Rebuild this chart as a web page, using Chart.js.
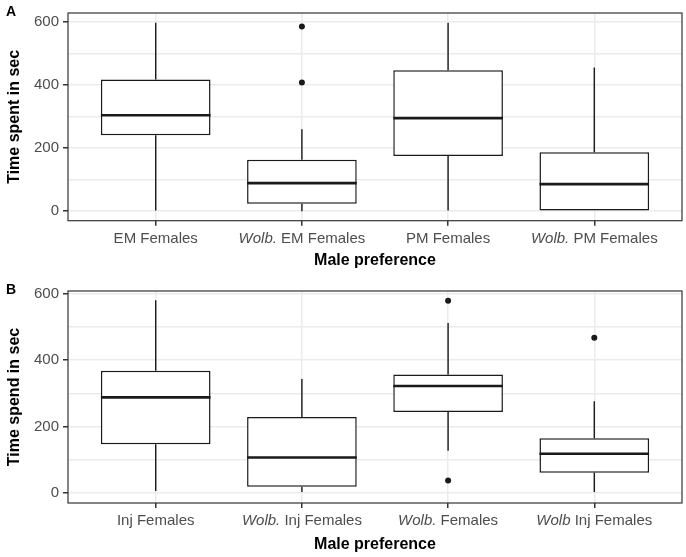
<!DOCTYPE html>
<html>
<head>
<meta charset="utf-8">
<title>Male preference</title>
<script src="https://cdn.jsdelivr.net/npm/chart.js@4.4.1/dist/chart.umd.min.js"></script>
<style>
  body { margin: 0; background: #fff; }
  canvas { position: absolute; left: 0; }
</style>
</head>
<body>
<canvas id="chartA" width="686" height="278" style="top:0"></canvas>
<canvas id="chartB" width="686" height="279" style="top:278px"></canvas>
<script>
// Panel A - time spent with each male type
const catsA = ['EM Females', 'Wolb. EM Females', 'PM Females', 'Wolb. PM Females'];
const lowA = [2, 0, 2, 0];
const q1A = [241, 24, 175, 0];
const medA = [304, 89, 295, 86];
const q3A = [417, 163, 447, 187];
const highA = [597, 260, 597, 455];
const outCatA = [2, 2];
const outValA = [585, 408];

// Panel B
const catsB = ['Inj Females', 'Wolb. Inj Females', 'Wolb. Females', 'Wolb Inj Females'];
const lowB = [6, 3, 127, 3];
const q1B = [147, 19, 244, 61];
const medB = [288, 107, 322, 118];
const q3B = [368, 229, 357, 165];
const highB = [580, 343, 512, 276];
const outCatB = [3, 3, 4];
const outValB = [579, 38, 467];

const yTicks = [0, 100, 200, 300, 400, 500, 600];

const FONT = "'Liberation Sans', Arial, sans-serif";
Chart.defaults.font.family = FONT;

// draws whiskers, medians, panel frame, letter and the mixed italic x labels
function boxExtras(stats, cats, letter, letterY) {
    return {
        id: 'boxExtras' + letter,
        afterDatasetsDraw(chart) {
            const { ctx, scales: { x, y } } = chart;
            const meta = chart.getDatasetMeta(0);
            ctx.save();
            ctx.strokeStyle = '#1a1a1a';
            meta.data.forEach((bar, i) => {
                const cx = x.getPixelForValue(i + 1);
                ctx.lineWidth = 1.4;
                ctx.beginPath();
                ctx.moveTo(cx, y.getPixelForValue(stats.high[i]));
                ctx.lineTo(cx, y.getPixelForValue(stats.q3[i]));
                ctx.moveTo(cx, y.getPixelForValue(stats.q1[i]));
                ctx.lineTo(cx, y.getPixelForValue(stats.low[i]));
                ctx.stroke();
                const my = y.getPixelForValue(stats.med[i]);
                ctx.lineWidth = 2.6;
                ctx.beginPath();
                ctx.moveTo(bar.x - bar.width / 2, my);
                ctx.lineTo(bar.x + bar.width / 2, my);
                ctx.stroke();
            });
            ctx.restore();
        },
        afterDraw(chart) {
            const { ctx, chartArea: ca, scales: { x } } = chart;
            ctx.save();
            // panel border (theme_bw)
            ctx.strokeStyle = '#333333';
            ctx.lineWidth = 1.2;
            ctx.strokeRect(ca.left, ca.top, ca.right - ca.left, ca.bottom - ca.top);

            // panel letter
            ctx.fillStyle = '#000';
            ctx.font = 'bold 14px ' + FONT;
            ctx.textBaseline = 'alphabetic';
            ctx.fillText(letter, 6, letterY);

            // category labels, "Wolb" part in italics
            ctx.fillStyle = '#4d4d4d';
            const base = ca.bottom + 22;
            cats.forEach((name, i) => {
                const m = name.match(/^Wolb\.?/);
                const ital = m ? m[0] : '';
                const rest = name.slice(ital.length);
                ctx.font = 'italic 15px ' + FONT;
                const w1 = ctx.measureText(ital).width;
                ctx.font = '15px ' + FONT;
                const w2 = ctx.measureText(rest).width;
                let left = x.getPixelForValue(i + 1) - (w1 + w2) / 2;
                if (ital) {
                    ctx.font = 'italic 15px ' + FONT;
                    ctx.fillText(ital, left, base);
                    left += w1;
                }
                ctx.font = '15px ' + FONT;
                ctx.fillText(rest, left, base);
            });
            ctx.restore();
        }
    };
}

function makePanel(id, cats, stats, outCat, outVal, yTitle, letter, o) {
    new Chart(document.getElementById(id), {
        type: 'bar',
        data: {
            datasets: [{
                data: cats.map((c, i) => ({ x: i + 1, y: [stats.q1[i], stats.q3[i]] })),
                backgroundColor: '#ffffff',
                borderColor: '#1a1a1a',
                borderWidth: 1.5,
                borderSkipped: false,
                barPercentage: 0.75,
                categoryPercentage: 1
            }, {
                type: 'scatter',
                data: outCat.map((c, i) => ({ x: c, y: outVal[i] })),
                backgroundColor: '#1a1a1a',
                borderWidth: 0,
                pointRadius: 3
            }]
        },
        options: {
            responsive: false,
            animation: false,
            layout: { padding: { top: o.top, right: 3, left: 0, bottom: 0 } },
            plugins: { legend: { display: false }, tooltip: { enabled: false } },
            scales: {
                x: {
                    type: 'linear',
                    min: 0.4,
                    max: 4.6,
                    offset: false,
                    afterBuildTicks: s => { s.ticks = cats.map((c, i) => ({ value: i + 1 })); },
                    afterFit: s => { s.height = o.xh; },
                    ticks: {
                        autoSkip: false,
                        maxRotation: 0,
                        color: 'rgba(0,0,0,0)',
                        callback: v => cats[v - 1]
                    },
                    grid: { offset: false, color: '#ebebeb', lineWidth: 1.5, tickColor: '#333333', tickLength: 5 },
                    border: { display: false },
                    title: {
                        display: true,
                        text: 'Male preference',
                        color: '#000',
                        font: { size: 16, weight: 'bold' },
                        padding: { top: 0, bottom: o.titlePad }
                    }
                },
                y: {
                    min: o.ymin,
                    max: o.ymax,
                    afterBuildTicks: s => { s.ticks = yTicks.map(v => ({ value: v })); },
                    afterFit: s => { s.width = 68; },
                    ticks: {
                        color: '#4d4d4d',
                        font: { size: 15 },
                        padding: 4,
                        callback: v => (v % 200 === 0 ? v : '')
                    },
                    grid: {
                        color: '#ebebeb',
                        lineWidth: 1.5,
                        tickColor: c => (c.tick && c.tick.value % 200 === 0 ? '#333333' : 'rgba(0,0,0,0)'),
                        tickLength: 5
                    },
                    border: { display: false },
                    title: {
                        display: true,
                        text: yTitle,
                        color: '#000',
                        font: { size: 16, weight: 'bold' },
                        padding: { top: 5, bottom: 0 }
                    }
                }
            }
        },
        plugins: [boxExtras(stats, cats, letter, o.letterY)]
    });
}

makePanel('chartA', catsA,
    { low: lowA, q1: q1A, med: medA, q3: q3A, high: highA },
    outCatA, outValA, 'Time spent in sec', 'A',
    { top: 3.5, xh: 57.3, titlePad: 8, ymin: -30, ymax: 628, letterY: 16 });

makePanel('chartB', catsB,
    { low: lowB, q1: q1B, med: medB, q3: q3B, high: highB },
    outCatB, outValB, 'Time spend in sec', 'B',
    { top: 10.3, xh: 54, titlePad: 3, ymin: -30, ymax: 608, letterY: 16 });
</script>
</body>
</html>
